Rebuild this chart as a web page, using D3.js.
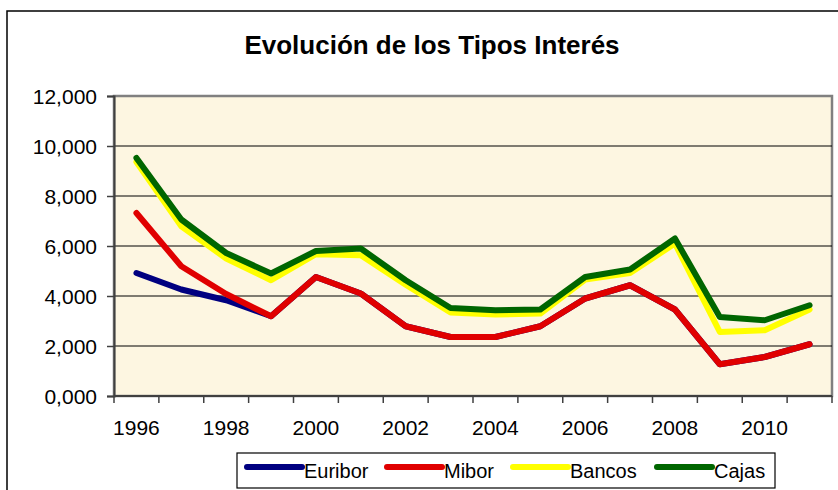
<!DOCTYPE html>
<html>
<head>
<meta charset="utf-8">
<script src="https://cdn.jsdelivr.net/npm/d3@7"></script>
<style>
  body { margin: 0; background: #fff; }
  text { font-family: Arial, "Liberation Sans", sans-serif; fill: #000; }
</style>
</head>
<body>
<svg width="838" height="490"></svg>
<script>
// datos
var years   = ["1996","1997","1998","1999","2000","2001","2002","2003","2004","2005","2006","2007","2008","2009","2010","2011"];
var euribor = [4.92, 4.26, 3.83, 3.19, 4.76, 4.10, 2.79, 2.36, 2.36, 2.79, 3.90, 4.43, 3.46, 1.27, 1.56, 2.07];
var mibor   = [7.32, 5.19, 4.08, 3.19, 4.76, 4.10, 2.79, 2.36, 2.36, 2.79, 3.90, 4.43, 3.46, 1.27, 1.56, 2.07];
var bancos  = [9.36, 6.79, 5.50, 4.63, 5.67, 5.63, 4.45, 3.34, 3.26, 3.30, 4.66, 4.92, 6.10, 2.56, 2.63, 3.46];
var cajas   = [9.52, 7.06, 5.72, 4.90, 5.80, 5.90, 4.63, 3.52, 3.43, 3.46, 4.76, 5.06, 6.30, 3.16, 3.03, 3.63];
var yTicks  = [0, 2, 4, 6, 8, 10, 12];
var xLabels = ["1996","1998","2000","2002","2004","2006","2008","2010"];

var series = [
  {name: "Euribor", values: euribor, color: "#000080"},
  {name: "Mibor",   values: mibor,   color: "#e00000"},
  {name: "Bancos",  values: bancos,  color: "#ffff00"},
  {name: "Cajas",   values: cajas,   color: "#006600"}
];

var svg = d3.select("svg"),
    plot = {left: 114, top: 96, right: 832, bottom: 396};

var es = d3.formatLocale({decimal: ",", thousands: ".", grouping: [3], currency: ["", ""]});

var x = d3.scaleBand().domain(years).range([plot.left, plot.right]).padding(0),
    y = d3.scaleLinear().domain([0, 12]).range([plot.bottom, plot.top]);

// marco exterior
svg.append("rect")
    .attr("x", 7).attr("y", 11)
    .attr("width", 900).attr("height", 600)
    .attr("fill", "none").attr("stroke", "#000").attr("stroke-width", 1.5);

// titulo
svg.append("text")
    .attr("x", 432).attr("y", 54)
    .attr("text-anchor", "middle")
    .style("font-size", "26px")
    .style("font-weight", "bold")
    .text("Evolución de los Tipos Interés");

// fondo del area de trazado
svg.append("rect")
    .attr("x", plot.left).attr("y", plot.top)
    .attr("width", plot.right - plot.left).attr("height", plot.bottom - plot.top)
    .attr("fill", "#fdf6e1")
    .attr("stroke", "#808080").attr("stroke-width", 2.5);

// lineas de cuadricula
svg.append("g")
  .selectAll("line")
  .data(yTicks.filter(function(d) { return d > 0 && d < 12; }))
  .enter().append("line")
    .attr("x1", plot.left).attr("x2", plot.right)
    .attr("y1", function(d) { return y(d); })
    .attr("y2", function(d) { return y(d); })
    .attr("stroke", "#000").attr("stroke-width", 1);

// eje y
var yAxis = svg.append("g")
    .attr("transform", "translate(" + plot.left + ",0)")
    .call(d3.axisLeft(y).tickValues(yTicks).tickFormat(es.format(".3f")).tickSize(7).tickPadding(10));
yAxis.select(".domain").attr("stroke", "#404040").attr("stroke-width", 2);
yAxis.selectAll(".tick line").attr("stroke", "#404040").attr("stroke-width", 1.5);
yAxis.selectAll("text").style("font-size", "21px").attr("dy", "0.36em");

// eje x: marcas entre categorias
var xAxis = svg.append("g")
    .attr("transform", "translate(0," + plot.bottom + ")");
xAxis.append("line")
    .attr("x1", plot.left).attr("x2", plot.right)
    .attr("stroke", "#404040").attr("stroke-width", 2);
xAxis.selectAll(".tk")
  .data(years.concat(["end"]))
  .enter().append("line")
    .attr("class", "tk")
    .attr("x1", function(d, i) { return i < years.length ? x(d) : plot.right; })
    .attr("x2", function(d, i) { return i < years.length ? x(d) : plot.right; })
    .attr("y1", 0).attr("y2", 7)
    .attr("stroke", "#404040").attr("stroke-width", 1.5);
xAxis.selectAll(".lbl")
  .data(xLabels)
  .enter().append("text")
    .attr("class", "lbl")
    .attr("x", function(d) { return x(d) + x.bandwidth() / 2; })
    .attr("y", 39)
    .attr("text-anchor", "middle")
    .style("font-size", "21px")
    .text(function(d) { return d; });

// lineas de datos
var line = d3.line()
    .x(function(d, i) { return x(years[i]) + x.bandwidth() / 2; })
    .y(function(d) { return y(d); });

svg.append("g")
  .selectAll("path")
  .data(series)
  .enter().append("path")
    .attr("d", function(s) { return line(s.values); })
    .attr("fill", "none")
    .attr("stroke", function(s) { return s.color; })
    .attr("stroke-width", 6)
    .attr("stroke-linejoin", "round")
    .attr("stroke-linecap", "round");

// leyenda
var legend = svg.append("g");
legend.append("rect")
    .attr("x", 237).attr("y", 453)
    .attr("width", 538).attr("height", 35)
    .attr("fill", "#fff").attr("stroke", "#000").attr("stroke-width", 1.2);

var legendX = [247, 387, 513, 657];
var item = legend.selectAll(".item")
  .data(series)
  .enter().append("g")
    .attr("class", "item")
    .attr("transform", function(s, i) { return "translate(" + legendX[i] + ",467)"; });
item.append("line")
    .attr("x1", 0).attr("x2", 55)
    .attr("stroke", function(s) { return s.color; })
    .attr("stroke-width", 6)
    .attr("stroke-linecap", "round");
item.append("text")
    .attr("x", 57).attr("y", 11)
    .style("font-size", "20px")
    .text(function(s) { return s.name; });
</script>
</body>
</html>
